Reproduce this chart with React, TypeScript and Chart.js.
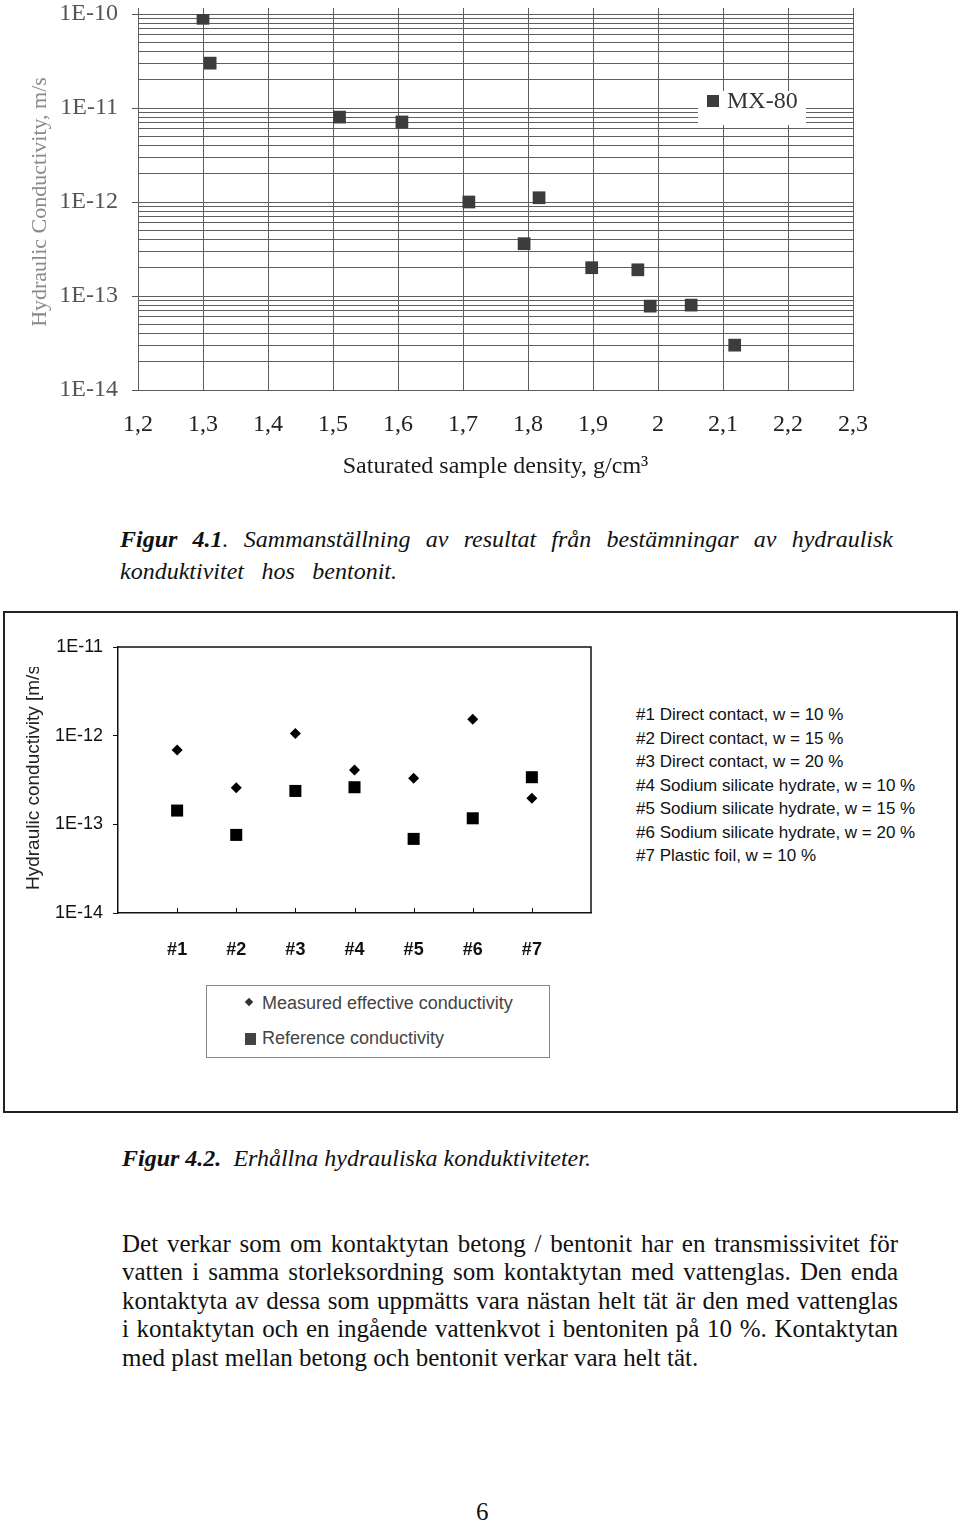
import React, { useEffect, useRef } from 'react';
import { Chart, registerables } from 'chart.js';

Chart.register(...registerables);

// ---------- Figure 4.1 data (MX-80) ----------
const densityTickValues = [1.2, 1.3, 1.4, 1.5, 1.6, 1.7, 1.8, 1.9, 2.0, 2.1, 2.2, 2.3];
const densityTickLabels = ['1,2', '1,3', '1,4', '1,5', '1,6', '1,7', '1,8', '1,9', '2', '2,1', '2,2', '2,3'];
const topDecadeExponents = [-14, -13, -12, -11, -10];
const topDecadeLabels = ['1E-14', '1E-13', '1E-12', '1E-11', '1E-10'];
const mx80Density = [1.3, 1.311, 1.51, 1.606, 1.709, 1.817, 1.794, 1.898, 1.969, 1.988, 2.051, 2.118];
const mx80Conductivity = [9.0e-11, 3.0e-11, 8.0e-12, 7.1e-12, 1.0e-12, 1.11e-12, 3.6e-13, 2.0e-13, 1.9e-13, 7.8e-14, 8.0e-14, 3.0e-14];

// ---------- Figure 4.2 data ----------
const sampleLabels = ['#1', '#2', '#3', '#4', '#5', '#6', '#7'];
const measuredConductivity = [6.9e-13, 2.59e-13, 1.06e-12, 4.1e-13, 3.31e-13, 1.53e-12, 1.97e-13];
const referenceConductivity = [1.43e-13, 7.6e-14, 2.38e-13, 2.62e-13, 6.85e-14, 1.17e-13, 3.4e-13];
const bottomDecadeExponents = [-14, -13, -12, -11];
const bottomDecadeLabels = ['1E-14', '1E-13', '1E-12', '1E-11'];
const sampleDescriptions = [
  '#1 Direct contact, w = 10 %',
  '#2 Direct contact, w = 15 %',
  '#3 Direct contact, w = 20 %',
  '#4 Sodium silicate hydrate, w = 10 %',
  '#5 Sodium silicate hydrate, w = 15 %',
  '#6 Sodium silicate hydrate, w = 20 %',
  '#7 Plastic foil, w = 10 %',
];

const bodyLines = [
  'Det verkar som om kontaktytan betong / bentonit har en transmissivitet för',
  'vatten i samma storleksordning som kontaktytan med vattenglas. Den enda',
  'kontaktyta av dessa som uppmätts vara nästan helt tät är den med vattenglas',
  'i kontaktytan och en ingående vattenkvot i bentoniten på 10 %. Kontaktytan',
  'med plast mellan betong och bentonit verkar vara  helt tät.',
];

const serif = "'Liberation Serif', 'Times New Roman', serif";
const sans = "'Liberation Sans', Arial, sans-serif";

const isDecade = (v: number) => {
  const e = Math.log10(v);
  return Math.abs(e - Math.round(e)) < 1e-9;
};
const decadeLabel = (v: number, exps: number[], labels: string[]) => {
  if (!isDecade(v)) return '';
  const i = exps.indexOf(Math.round(Math.log10(v)));
  return i >= 0 ? labels[i] : '';
};

const mxLegendPlugin = {
  id: 'mxLegend',
  afterDraw(chart: any) {
    const { ctx, chartArea: a, scales } = chart;
    // vertical grid lines poke slightly above the top line in the original
    ctx.save();
    ctx.strokeStyle = '#5e5e5e';
    ctx.lineWidth = 1;
    ctx.beginPath();
    densityTickValues.forEach((v) => {
      const x = Math.round(scales.x.getPixelForValue(v)) + 0.5;
      ctx.moveTo(x, a.top - 6);
      ctx.lineTo(x, a.top);
    });
    ctx.stroke();
    const yc = scales.y.getPixelForValue(1e-11) - 7;
    const x0 = a.right - 155;
    ctx.fillStyle = '#ffffff';
    ctx.fillRect(x0, yc - 10, 108, 34);
    ctx.fillStyle = '#3c3c3c';
    ctx.fillRect(x0 + 9, yc - 6, 12, 12);
    ctx.fillStyle = '#333333';
    ctx.font = `24px ${serif}`;
    ctx.textBaseline = 'alphabetic';
    ctx.fillText('MX-80', x0 + 29, yc + 7);
    ctx.restore();
  },
};

const bottomFramePlugin = {
  id: 'bottomFrame',
  afterDraw(chart: any) {
    const { ctx, chartArea: a, scales } = chart;
    ctx.save();
    ctx.strokeStyle = '#111';
    ctx.lineWidth = 1.5;
    ctx.beginPath();
    ctx.moveTo(a.left, a.top);
    ctx.lineTo(a.right, a.top);
    ctx.lineTo(a.right, a.bottom);
    ctx.stroke();
    ctx.lineWidth = 1;
    ctx.beginPath();
    sampleLabels.forEach((_, i) => {
      const x = Math.round(scales.x.getPixelForValue(i + 1)) + 0.5;
      ctx.moveTo(x, a.bottom);
      ctx.lineTo(x, a.bottom - 5);
    });
    ctx.stroke();
    ctx.restore();
  },
};

function TopChart() {
  const ref = useRef<HTMLCanvasElement>(null);
  useEffect(() => {
    const yTicks: number[] = [];
    for (let e = -14; e < -10; e++) for (let m = 1; m <= 9; m++) yTicks.push(m * Math.pow(10, e));
    yTicks.push(1e-10);
    const chart = new Chart(ref.current!, {
      type: 'scatter',
      data: {
        datasets: [
          {
            label: 'MX-80',
            data: mx80Density.map((d, i) => ({ x: d, y: mx80Conductivity[i] })),
            pointStyle: 'rect',
            pointRadius: 9,
            pointHoverRadius: 9,
            backgroundColor: '#3c3c3c',
            borderWidth: 0,
          },
        ],
      },
      options: {
        responsive: false,
        animation: false,
        layout: { padding: { left: 0, top: 0, right: 47, bottom: 0 } },
        plugins: { legend: { display: false }, tooltip: { enabled: false } },
        scales: {
          x: {
            type: 'linear',
            min: 1.2,
            max: 2.3,
            afterBuildTicks: (s: any) => {
              s.ticks = densityTickValues.map((v) => ({ value: v }));
            },
            afterFit: (s: any) => {
              s.height = 91;
            },
            ticks: {
              autoSkip: false,
              maxRotation: 0,
              padding: 20,
              color: '#222',
              font: { family: serif, size: 24 },
              callback: (v: any) => {
                const i = densityTickValues.findIndex((t) => Math.abs(t - v) < 1e-6);
                return i >= 0 ? densityTickLabels[i] : '';
              },
            },
            grid: { color: '#5e5e5e', lineWidth: 1, drawTicks: false },
            border: { color: '#5e5e5e', width: 1 },
            title: {
              display: true,
              text: 'Saturated sample density, g/cm³',
              color: '#1a1a1a',
              font: { family: serif, size: 24 },
              padding: 0,
            },
          },
          y: {
            type: 'logarithmic',
            min: 1e-14,
            max: 1e-10,
            afterBuildTicks: (s: any) => {
              s.ticks = yTicks.map((v) => ({ value: v }));
            },
            afterFit: (s: any) => {
              s.width = 138;
              s.paddingTop = 14;
            },
            ticks: {
              autoSkip: false,
              padding: 14,
              color: '#555',
              font: { family: serif, size: 24 },
              callback: (v: any) => decadeLabel(Number(v), topDecadeExponents, topDecadeLabels),
            },
            grid: {
              color: '#5e5e5e',
              lineWidth: 1,
              tickLength: 6,
              tickColor: (c: any) => (c.tick && isDecade(c.tick.value) ? '#555' : 'rgba(0,0,0,0)'),
            },
            border: { color: '#5e5e5e', width: 1 },
            title: {
              display: true,
              text: 'Hydraulic Conductivity, m/s',
              color: '#8a8a8a',
              font: { family: serif, size: 22 },
              padding: { top: 27, bottom: 0 },
            },
          },
        },
      },
      plugins: [mxLegendPlugin],
    } as any);
    return () => chart.destroy();
  }, []);
  return <canvas ref={ref} width={900} height={481} style={{ position: 'absolute', left: 0, top: 0 }} />;
}

function BottomChart() {
  const ref = useRef<HTMLCanvasElement>(null);
  useEffect(() => {
    const decadeTicks = bottomDecadeExponents.map((e) => Math.pow(10, e));
    const chart = new Chart(ref.current!, {
      type: 'scatter',
      data: {
        datasets: [
          {
            label: 'Measured effective conductivity',
            data: sampleLabels.map((_, i) => ({ x: i + 1, y: measuredConductivity[i] })),
            pointStyle: 'rectRot',
            pointRadius: 5.5,
            pointHoverRadius: 5.5,
            backgroundColor: '#000',
            borderWidth: 0,
          },
          {
            label: 'Reference conductivity',
            data: sampleLabels.map((_, i) => ({ x: i + 1, y: referenceConductivity[i] })),
            pointStyle: 'rect',
            pointRadius: 8.5,
            pointHoverRadius: 8.5,
            backgroundColor: '#000',
            borderWidth: 0,
          },
        ],
      },
      options: {
        responsive: false,
        animation: false,
        layout: { padding: { left: 0, top: 27, right: 9, bottom: 0 } },
        plugins: { legend: { display: false }, tooltip: { enabled: false } },
        scales: {
          x: {
            type: 'linear',
            min: 0,
            max: 8,
            afterBuildTicks: (s: any) => {
              s.ticks = sampleLabels.map((_, i) => ({ value: i + 1 }));
            },
            afterFit: (s: any) => {
              s.height = 47;
            },
            ticks: {
              autoSkip: false,
              maxRotation: 0,
              padding: 18,
              color: '#111',
              font: { family: sans, size: 18, weight: 'bold' },
              callback: (v: any) => sampleLabels[Math.round(v) - 1] ?? '',
            },
            grid: { display: false },
            border: { color: '#111', width: 1.5 },
          },
          y: {
            type: 'logarithmic',
            min: 1e-14,
            max: 1e-11,
            afterBuildTicks: (s: any) => {
              s.ticks = decadeTicks.map((v) => ({ value: v }));
            },
            afterFit: (s: any) => {
              s.width = 118;
            },
            ticks: {
              autoSkip: false,
              padding: 10,
              color: '#111',
              font: { family: sans, size: 18 },
              callback: (v: any) => decadeLabel(Number(v), bottomDecadeExponents, bottomDecadeLabels),
            },
            grid: { drawOnChartArea: false, drawTicks: true, tickLength: 5, tickColor: '#111', color: '#111' },
            border: { color: '#111', width: 1.5 },
          },
        },
      },
      plugins: [bottomFramePlugin],
    } as any);
    return () => chart.destroy();
  }, []);
  return <canvas ref={ref} width={600} height={340} style={{ position: 'absolute', left: 0, top: 620 }} />;
}

const abs = (o: React.CSSProperties): React.CSSProperties => ({ position: 'absolute', whiteSpace: 'nowrap', ...o });

export default function App() {
  return (
    <div
      style={{
        position: 'absolute',
        left: 0,
        top: 0,
        width: 960,
        height: 1523,
        background: '#fff',
        overflow: 'hidden',
        fontFamily: serif,
        color: '#111',
      }}
    >
      <TopChart />

      {/* Caption 4.1 */}
      <div style={abs({ left: 120, top: 524, width: 773, fontSize: 24, lineHeight: '30px', fontStyle: 'italic', textAlign: 'justify', textAlignLast: 'justify' })}>
        <b>Figur 4.1</b>. Sammanställning av resultat från bestämningar av hydraulisk
      </div>
      <div style={abs({ left: 120, top: 556, width: 277, fontSize: 24, lineHeight: '30px', fontStyle: 'italic', textAlign: 'justify', textAlignLast: 'justify' })}>
        konduktivitet hos bentonit.
      </div>

      {/* Figure 4.2 frame */}
      <div style={{ position: 'absolute', left: 3, top: 611, width: 951, height: 498, border: '2px solid #222' }} />
      <BottomChart />

      {/* y-axis title, clipped as in the original */}
      <div style={{ position: 'absolute', left: 18, top: 667, width: 30, height: 223, overflow: 'hidden' }}>
        <div
          style={abs({
            left: 0,
            top: 223,
            transform: 'rotate(-90deg)',
            transformOrigin: '0 0',
            fontFamily: sans,
            fontSize: 19,
            lineHeight: '30px',
            color: '#222',
          })}
        >
          Hydraulic conductivity [m/s]
        </div>
      </div>

      {/* sample descriptions */}
      <div style={abs({ left: 636, top: 703, fontFamily: sans, fontSize: 17, lineHeight: '23.5px', color: '#111' })}>
        {sampleDescriptions.map((t) => (
          <div key={t}>{t}</div>
        ))}
      </div>

      {/* legend box */}
      <div style={{ position: 'absolute', left: 206, top: 985, width: 342, height: 71, border: '1px solid #888', background: '#fff' }} />
      <div style={{ position: 'absolute', left: 246, top: 999, width: 6, height: 6, background: '#333', transform: 'rotate(45deg)' }} />
      <div style={abs({ left: 262, top: 990, fontFamily: sans, fontSize: 18, lineHeight: '26px', color: '#444' })}>Measured effective conductivity</div>
      <div style={{ position: 'absolute', left: 245, top: 1033, width: 11, height: 12, background: '#444' }} />
      <div style={abs({ left: 262, top: 1025, fontFamily: sans, fontSize: 18, lineHeight: '26px', color: '#444' })}>Reference conductivity</div>

      {/* Caption 4.2 */}
      <div style={abs({ left: 122, top: 1143, fontSize: 24, lineHeight: '30px', fontStyle: 'italic' })}>
        <b>Figur 4.2.</b>{'\u00a0\u00a0'}Erhållna hydrauliska konduktiviteter.
      </div>

      {/* Body text */}
      {bodyLines.map((line, i) => (
        <div
          key={i}
          style={abs({
            left: 122,
            top: 1230 + i * 28.4,
            width: i < bodyLines.length - 1 ? 776 : undefined,
            fontSize: 25,
            lineHeight: '28px',
            textAlign: 'justify',
            textAlignLast: i < bodyLines.length - 1 ? 'justify' : 'left',
          })}
        >
          {line}
        </div>
      ))}

      {/* page number */}
      <div style={abs({ left: 476, top: 1497, fontSize: 25, lineHeight: '30px' })}>6</div>
    </div>
  );
}
